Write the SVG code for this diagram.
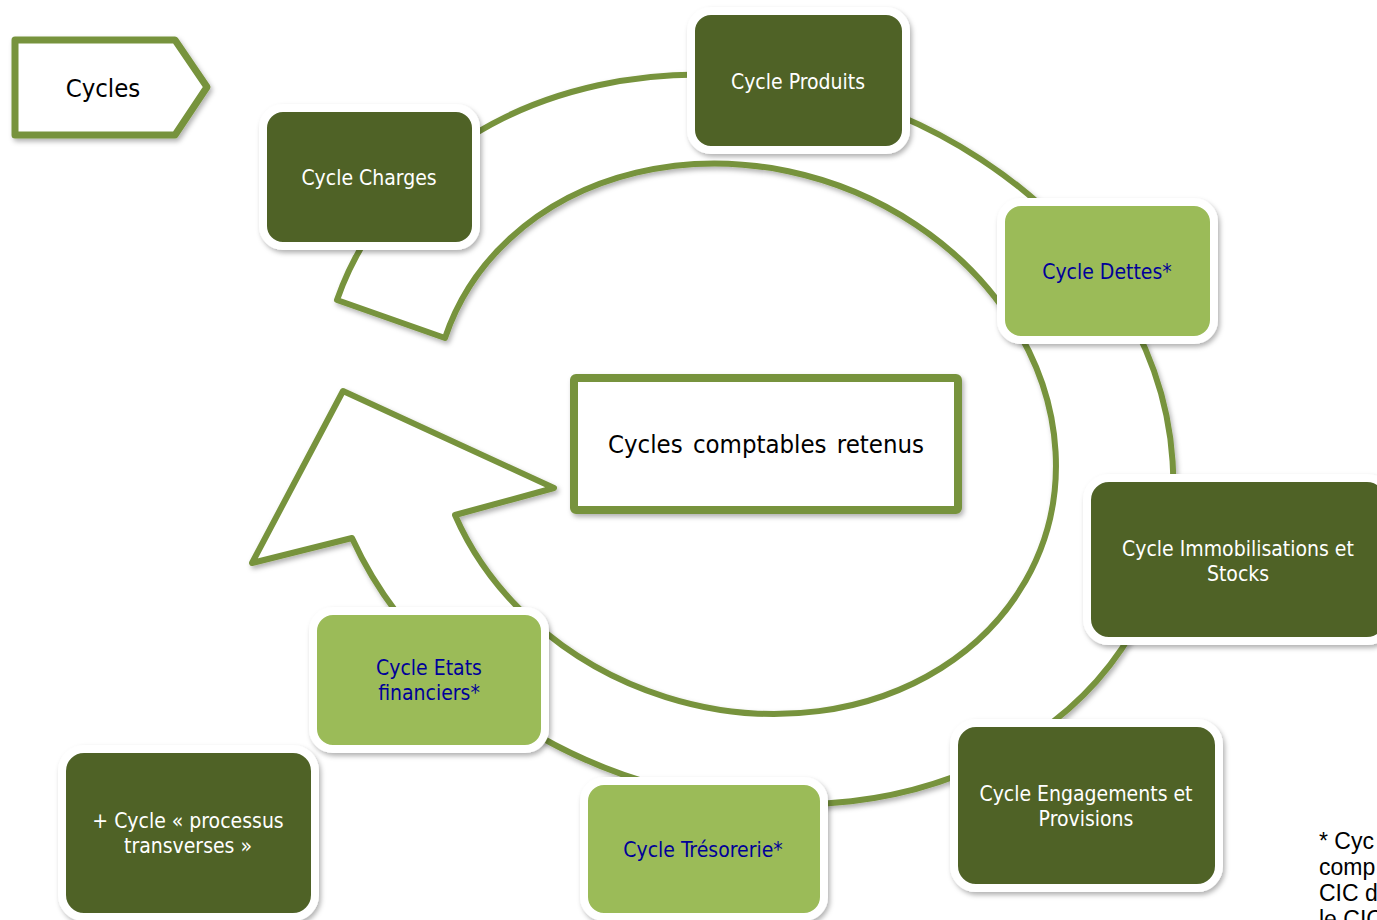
<svg xmlns="http://www.w3.org/2000/svg" width="1377" height="920" viewBox="0 0 1377 920">
  <defs>
    <filter id="sh" x="-10%" y="-10%" width="130%" height="130%">
      <feDropShadow dx="2" dy="3" stdDeviation="2.5" flood-color="#000" flood-opacity="0.3"/>
    </filter>
    <style>
      .lbl { font-family: "DejaVu Sans Condensed", "DejaVu Sans", sans-serif; font-stretch: condensed; font-size: 21px; text-anchor: middle; }
      .big { font-size: 25.5px; fill: #000000; }
      .dark rect { fill: #4F6228; stroke: #FFFFFF; stroke-width: 8; filter: url(#sh); }
      .light rect { fill: #9BBB59; stroke: #FFFFFF; stroke-width: 8; filter: url(#sh); }
      .dark text { fill: #FFFFFF; }
      .light text { fill: #000099; }
      .ring { fill: #FFFFFF; stroke: #77933C; stroke-width: 6; stroke-linejoin: round; filter: url(#sh); }
      .frame { fill: #FFFFFF; stroke: #77933C; stroke-width: 8; stroke-linejoin: round; filter: url(#sh); }
      .note { font-family: "Liberation Sans", Arial, sans-serif; font-size: 23px; fill: #000000; }
    </style>
  </defs>
  <rect width="1377" height="920" fill="#FFFFFF"/>

  <g id="connectors">
    <path class="ring" d="M 337,300 A 433 357 18 1 1 352,538 L 252,563 L 343,391 L 554,488 L 455,515 A 316 270 19 1 0 445,338 Z"/>
  </g>

  <g id="cycles">
    <polygon class="frame" style="stroke-width:7" points="15,40 175,40 207,87 175,135 15,135"/>
    <text class="lbl big" x="103" y="97">Cycles</text>
  </g>

  <g id="center">
    <rect class="frame" x="574" y="378" width="384" height="132" rx="2"/>
    <text class="lbl big" x="766" y="453" word-spacing="3">Cycles comptables retenus</text>
  </g>

  <g id="produits" class="dark">
    <rect x="691" y="11" width="215" height="139" rx="20"/>
    <text class="lbl" x="798" y="89">Cycle Produits</text>
  </g>

  <g id="charges" class="dark">
    <rect x="263" y="108" width="213" height="138" rx="20"/>
    <text class="lbl" x="369" y="185">Cycle Charges</text>
  </g>

  <g id="dettes" class="light">
    <rect x="1001" y="202" width="213" height="138" rx="20"/>
    <text class="lbl" x="1107" y="279">Cycle Dettes*</text>
  </g>

  <g id="immobilisations" class="dark">
    <rect x="1087" y="478" width="302" height="163" rx="22"/>
    <text class="lbl" x="1238" y="556">Cycle Immobilisations et</text>
    <text class="lbl" x="1238" y="581">Stocks</text>
  </g>

  <g id="engagements" class="dark">
    <rect x="954" y="723" width="265" height="165" rx="22"/>
    <text class="lbl" x="1086" y="801">Cycle Engagements et</text>
    <text class="lbl" x="1086" y="826">Provisions</text>
  </g>

  <g id="tresorerie" class="light">
    <rect x="584" y="781" width="240" height="136" rx="20"/>
    <text class="lbl" x="703" y="857">Cycle Trésorerie*</text>
  </g>

  <g id="etats" class="light">
    <rect x="313" y="611" width="232" height="138" rx="20"/>
    <text class="lbl" x="429" y="675">Cycle Etats</text>
    <text class="lbl" x="429" y="700">financiers*</text>
  </g>

  <g id="processus" class="dark">
    <rect x="62" y="749" width="253" height="168" rx="22"/>
    <text class="lbl" x="188" y="828">+ Cycle « processus</text>
    <text class="lbl" x="188" y="853">transverses »</text>
  </g>

  <g id="footnote">
    <text class="note" x="1319" y="849">* Cyc</text>
    <text class="note" x="1319" y="875">comp</text>
    <text class="note" x="1319" y="901">CIC d</text>
    <text class="note" x="1319" y="927">le CIC</text>
  </g>
</svg>
